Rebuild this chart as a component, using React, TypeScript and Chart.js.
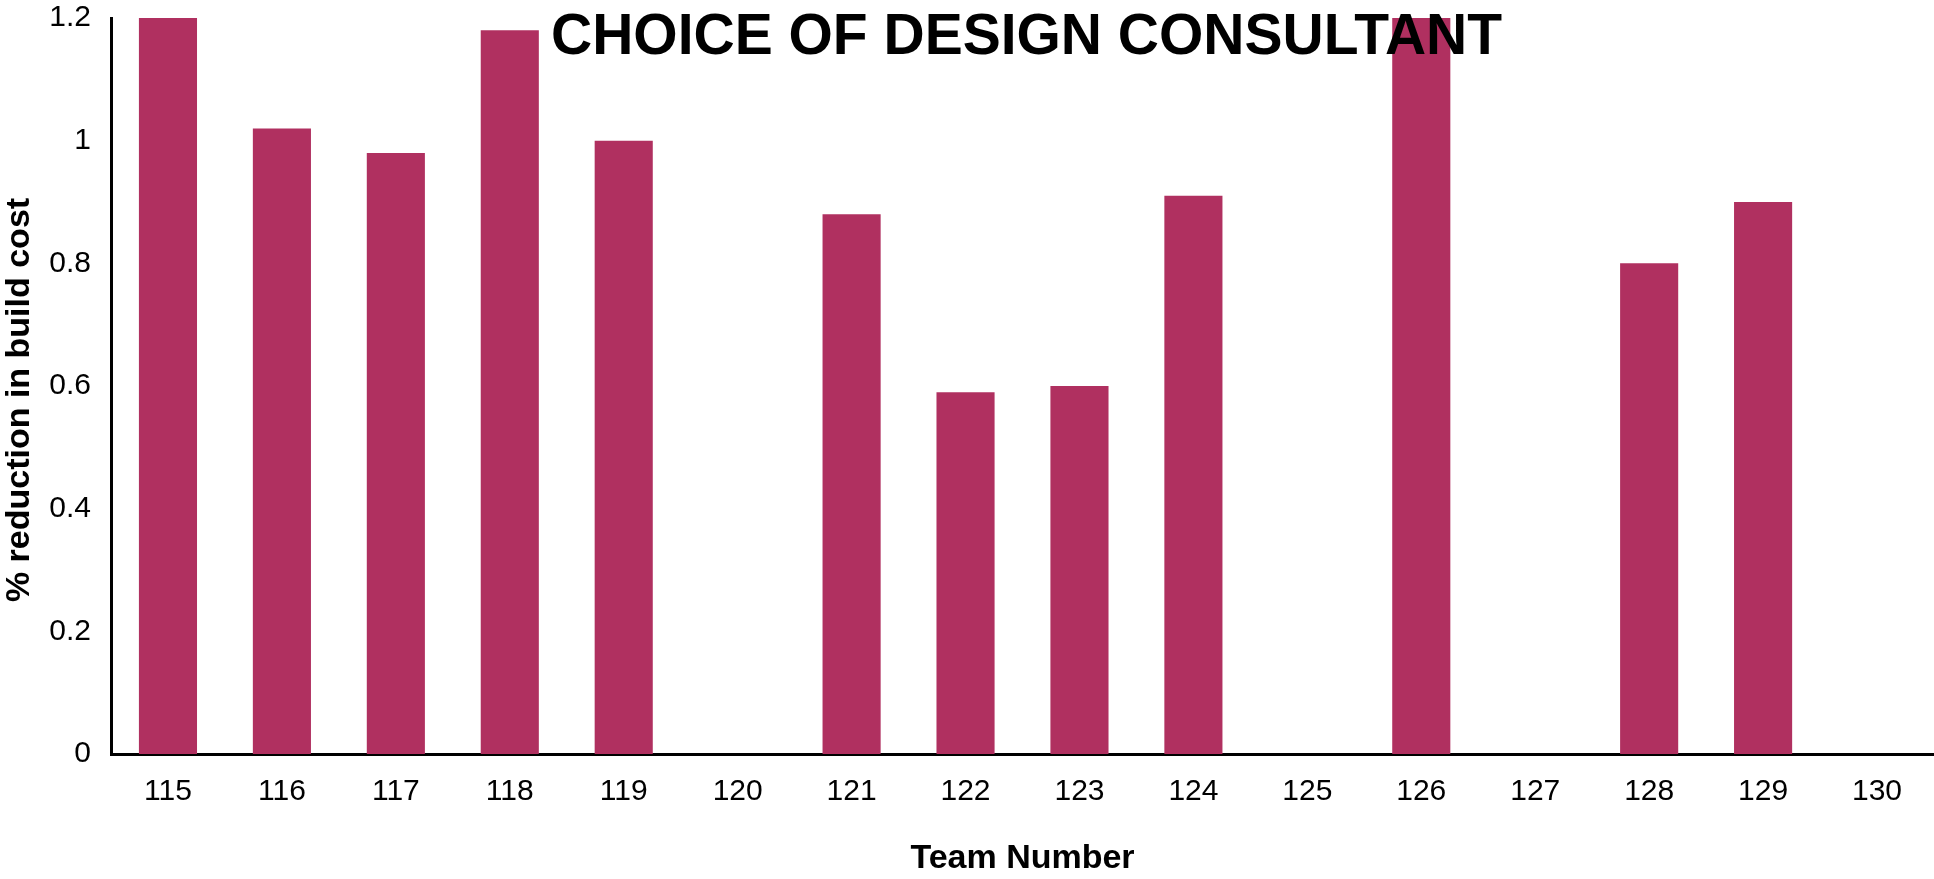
import React, { useEffect, useRef } from "react";
import { Chart, registerables } from "chart.js";

Chart.register(...registerables);

const teams: string[] = ["115", "116", "117", "118", "119", "120", "121", "122", "123", "124", "125", "126", "127", "128", "129", "130"];
const reduction: number[] = [1.2, 1.02, 0.98, 1.18, 1.0, 0, 0.88, 0.59, 0.6, 0.91, 0, 1.2, 0, 0.8, 0.9, 0];
const chartTitle = "CHOICE OF DESIGN CONSULTANT";
const xTitle = "Team Number";
const yTitle = "% reduction in build cost";

const FONT = "'Liberation Sans', Arial, sans-serif";

const titlePlugin = {
  id: "overTitle",
  afterDatasetsDraw(chart: any) {
    const { ctx, chartArea } = chart;
    ctx.save();
    ctx.font = `bold 57px ${FONT}`;
    ctx.fillStyle = "#000";
    ctx.textAlign = "center";
    ctx.textBaseline = "middle";
    ctx.fillText(chartTitle, (chartArea.left + chartArea.right) / 2 + 4, 38);
    // y-axis title
    ctx.translate(20, 400);
    ctx.rotate(-Math.PI / 2);
    ctx.font = `bold 34px ${FONT}`;
    ctx.fillText(yTitle, 0, 0);
    ctx.restore();
  },
};

export default function App() {
  const ref = useRef<HTMLCanvasElement | null>(null);
  useEffect(() => {
    if (!ref.current) return;
    const chart = new Chart(ref.current, {
      type: "bar",
      data: {
        labels: teams,
        datasets: [
          {
            data: reduction,
            backgroundColor: "#B03060",
            borderWidth: 0,
            barPercentage: 0.51,
            categoryPercentage: 1,
          },
        ],
      },
      options: {
        animation: false,
        responsive: false,
        maintainAspectRatio: false,
        layout: { padding: { top: 18, right: 0, bottom: 0, left: 0 } },
        plugins: { legend: { display: false }, tooltip: { enabled: false }, title: { display: false } },
        scales: {
          x: {
            grid: { display: false, drawTicks: false },
            border: { display: true, color: "#000", width: 3 },
            ticks: { color: "#000", font: { family: FONT, size: 30 }, padding: 20, maxRotation: 0, autoSkip: false },
            title: { display: true, text: xTitle, color: "#000", font: { family: FONT, size: 34, weight: "bold", lineHeight: 1.1 }, padding: { top: 0, bottom: 2 } },
            afterFit: (s: any) => { s.height = 125; s.paddingLeft = 0; s.paddingRight = 0; },
          },
          y: {
            min: 0,
            max: 1.2,
            grid: { display: false, drawTicks: false },
            border: { display: true, color: "#000", width: 3 },
            ticks: {
              stepSize: 0.2,
              color: "#000",
              font: { family: FONT, size: 30 },
              padding: 20,
              callback: (v: any) => String(Number(Number(v).toFixed(1))),
            },
            title: { display: false },
            afterFit: (s: any) => { s.width = 111; s.paddingTop = 0; s.paddingBottom = 0; },
          },
        },
      },
      plugins: [titlePlugin],
    });
    return () => chart.destroy();
  }, []);
  return (
    <div style={{ position: "fixed", left: 0, top: 0, width: 1934, height: 879, background: "#fff" }}>
      <canvas ref={ref} width={1934} height={879} style={{ width: 1934, height: 879 }} />
    </div>
  );
}
